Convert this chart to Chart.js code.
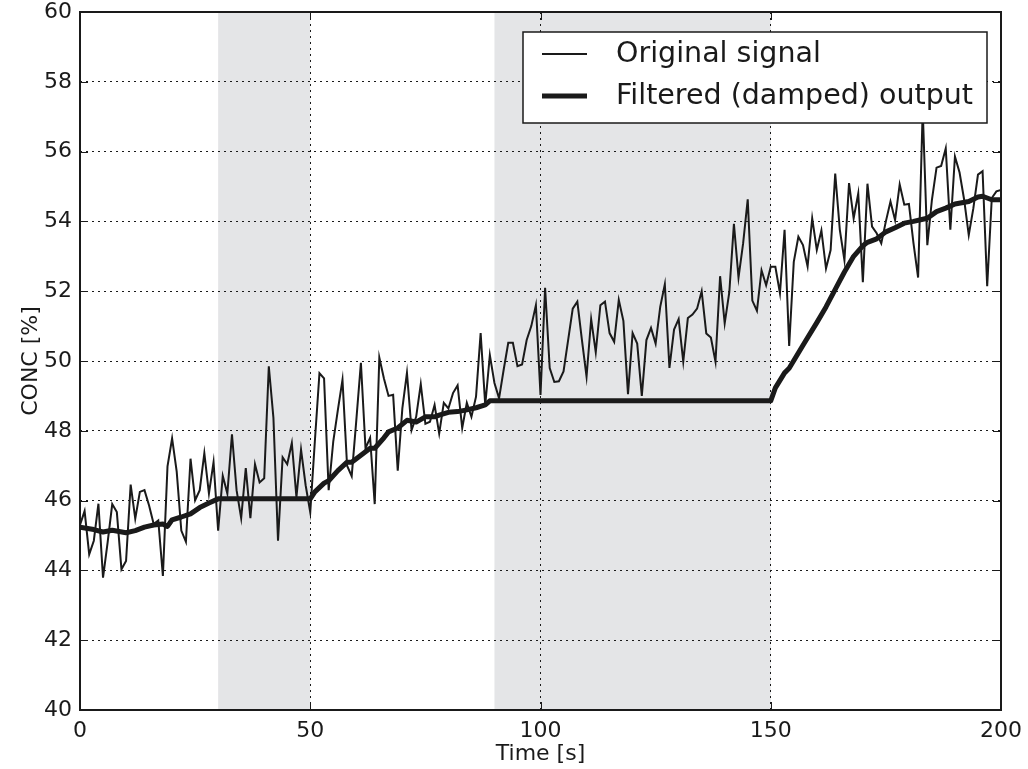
<!DOCTYPE html>
<html>
<head>
<meta charset="utf-8">
<script src="https://cdn.jsdelivr.net/npm/chart.js@4.4.1/dist/chart.umd.min.js"></script>
<style>
html,body{margin:0;padding:0;background:#fff;}
#c{display:block;}
</style>
</head>
<body>
<canvas id="c" width="1028" height="769"></canvas>
<script>
// ---- data ----
const signalValues = [
45.3,45.7,44.46,44.85,45.91,43.79,44.8,45.9,45.67,44.03,
44.27,46.46,45.48,46.25,46.3,45.86,45.33,45.43,43.84,46.98,
47.78,46.83,45.14,44.82,47.2,46.01,46.3,47.36,46.2,47.1,
45.14,46.71,46.2,47.9,46.3,45.5,46.93,45.5,47.04,46.52,
46.64,49.85,48.38,44.85,47.24,47.04,47.65,46.1,47.46,46.44,
45.67,47.7,49.65,49.5,46.3,47.7,48.6,49.46,47.0,46.7,
48.3,49.95,47.5,47.8,45.9,50.1,49.5,49.0,49.03,46.86,
48.64,49.66,48.02,48.4,49.34,48.2,48.26,48.74,47.92,48.8,
48.64,49.08,49.3,48.08,48.8,48.4,48.98,50.8,48.74,50.17,
49.37,48.93,49.75,50.52,50.52,49.85,49.9,50.6,51.0,51.6,
49.03,52.1,49.8,49.4,49.42,49.7,50.6,51.5,51.7,50.6,
49.55,51.2,50.25,51.6,51.7,50.8,50.55,51.75,51.15,49.05,
50.8,50.5,49.0,50.6,50.95,50.5,51.55,52.2,49.8,50.9,
51.2,49.98,51.23,51.33,51.5,52.0,50.79,50.67,49.98,52.43,
51.08,51.97,53.93,52.39,53.37,54.63,51.73,51.44,52.6,52.17,
52.7,52.7,51.94,53.76,50.43,52.84,53.56,53.32,52.71,54.09,
53.18,53.74,52.65,53.18,55.37,53.76,52.89,55.1,54.09,54.8,
52.26,55.08,53.85,53.66,53.37,54.0,54.57,54.04,55.06,54.48,
54.5,53.37,52.39,57.2,53.32,54.62,55.54,55.59,56.09,53.76,
55.86,55.4,54.62,53.61,54.38,55.34,55.44,52.14,54.67,54.86,
54.9
];
const signalTimes = signalValues.map((v, i) => i);

const filteredTimes = [0,3,5,7,10,12,14,16,18,19,20,22,24,26,28,30,50,51,53,54,56,58,59,61,63,64,66,67,69,71,73,75,77,78,80,82,84,86,88,89,150,151,153,154,157,160,162,164,166,168,170,171,173,175,177,179,181,183,184,186,188,190,193,195,196,198,200];
const filteredValues = [45.24,45.17,45.1,45.15,45.08,45.14,45.24,45.3,45.33,45.26,45.45,45.53,45.62,45.8,45.93,46.05,46.05,46.25,46.5,46.57,46.86,47.1,47.1,47.3,47.5,47.5,47.8,47.97,48.08,48.3,48.25,48.4,48.4,48.45,48.53,48.55,48.6,48.66,48.74,48.86,48.86,49.23,49.66,49.79,50.45,51.1,51.55,52.05,52.55,53.0,53.3,53.4,53.5,53.7,53.82,53.95,54.0,54.06,54.09,54.28,54.38,54.5,54.57,54.7,54.72,54.62,54.62];

const holdStarts = [30, 90];
const holdEnds = [50, 150];

const xTicks = [0, 50, 100, 150, 200];
const yTicks = [40, 42, 44, 46, 48, 50, 52, 54, 56, 58, 60];

const seriesLabels = ['Original signal', 'Filtered (damped) output'];
const xTitle = 'Time [s]';
const yTitle = 'CONC [%]';

// ---- chart ----
const INK = '#1a1a1a';
const FONT = '"DejaVu Sans", sans-serif';

const shadePlugin = {
  id: 'shade',
  beforeDraw(chart) {
    const {ctx, chartArea, scales} = chart;
    ctx.save();
    ctx.fillStyle = '#e4e5e7';
    holdStarts.forEach((s, i) => {
      const x0 = scales.x.getPixelForValue(s);
      const x1 = scales.x.getPixelForValue(holdEnds[i]);
      ctx.fillRect(x0, chartArea.top, x1 - x0, chartArea.bottom - chartArea.top);
    });
    ctx.restore();
  }
};

const framePlugin = {
  id: 'frame',
  afterDatasetsDraw(chart) {
    const {ctx, chartArea: a, scales} = chart;
    ctx.save();
    ctx.strokeStyle = INK;
    ctx.lineWidth = 1;
    const tl = 8;
    ctx.beginPath();
    xTicks.forEach(t => {
      const x = Math.round(scales.x.getPixelForValue(t)) + 0.5;
      ctx.moveTo(x, a.bottom); ctx.lineTo(x, a.bottom - tl);
      ctx.moveTo(x, a.top); ctx.lineTo(x, a.top + tl);
    });
    yTicks.forEach(t => {
      const y = Math.round(scales.y.getPixelForValue(t)) + 0.5;
      ctx.moveTo(a.left, y); ctx.lineTo(a.left + tl, y);
      ctx.moveTo(a.right, y); ctx.lineTo(a.right - tl, y);
    });
    ctx.stroke();
    ctx.lineWidth = 2;
    ctx.strokeRect(a.left, a.top, a.right - a.left, a.bottom - a.top);
    ctx.restore();
  }
};

const legendPlugin = {
  id: 'boxLegend',
  afterDraw(chart) {
    const {ctx} = chart;
    ctx.save();
    const bx = 523, by = 32, bw = 464, bh = 91;
    ctx.fillStyle = '#ffffff';
    ctx.fillRect(bx, by, bw, bh);
    ctx.strokeStyle = INK;
    ctx.lineWidth = 1.5;
    ctx.strokeRect(bx, by, bw, bh);
    const rows = [54, 96];
    const widths = [2, 5];
    rows.forEach((y, i) => {
      ctx.strokeStyle = INK;
      ctx.lineWidth = widths[i];
      ctx.beginPath();
      ctx.moveTo(542, y); ctx.lineTo(587, y);
      ctx.stroke();
      ctx.fillStyle = INK;
      ctx.font = '28.5px ' + FONT;
      ctx.textBaseline = 'middle';
      ctx.textAlign = 'left';
      ctx.fillText(seriesLabels[i], 616, y + 1);
    });
    ctx.restore();
  }
};

new Chart(document.getElementById('c'), {
  type: 'line',
  data: {
    datasets: [
      {
        label: seriesLabels[0],
        data: signalTimes.map((t, i) => ({x: t, y: signalValues[i]})),
        borderColor: INK,
        borderWidth: 2,
        pointRadius: 0,
        tension: 0,
        fill: false,
        order: 1
      },
      {
        label: seriesLabels[1],
        data: filteredTimes.map((t, i) => ({x: t, y: filteredValues[i]})),
        borderColor: INK,
        borderWidth: 5,
        pointRadius: 0,
        tension: 0,
        fill: false,
        borderJoinStyle: 'round',
        order: 0
      }
    ]
  },
  options: {
    responsive: false,
    animation: false,
    devicePixelRatio: 1,
    layout: {padding: {top: 12, right: 27, left: 0, bottom: 0}},
    plugins: {legend: {display: false}, tooltip: {enabled: false}},
    scales: {
      x: {
        type: 'linear',
        min: 0, max: 200,
        afterFit(s) { s.height = 59; s.paddingLeft = 0; s.paddingRight = 0; },
        afterBuildTicks(s) { s.ticks = xTicks.map(v => ({value: v})); },
        grid: {color: INK, lineWidth: 1, drawTicks: false},
        border: {display: false, dash: [2, 4]},
        ticks: {color: INK, font: {family: FONT, size: 22}, padding: 8, maxRotation: 0},
        title: {display: true, text: xTitle, color: INK, font: {family: FONT, size: 22}, padding: {top: 0, bottom: 2}}
      },
      y: {
        type: 'linear',
        min: 40, max: 60,
        afterFit(s) { s.width = 80; s.paddingTop = 0; s.paddingBottom = 0; },
        afterBuildTicks(s) { s.ticks = yTicks.map(v => ({value: v})); },
        grid: {color: INK, lineWidth: 1, drawTicks: false},
        border: {display: false, dash: [2, 4]},
        ticks: {color: INK, font: {family: FONT, size: 22}, padding: 8},
        title: {display: true, text: yTitle, color: INK, font: {family: FONT, size: 22}, padding: {top: 18, bottom: 0}}
      }
    }
  },
  plugins: [shadePlugin, framePlugin, legendPlugin]
});
</script>
</body>
</html>
